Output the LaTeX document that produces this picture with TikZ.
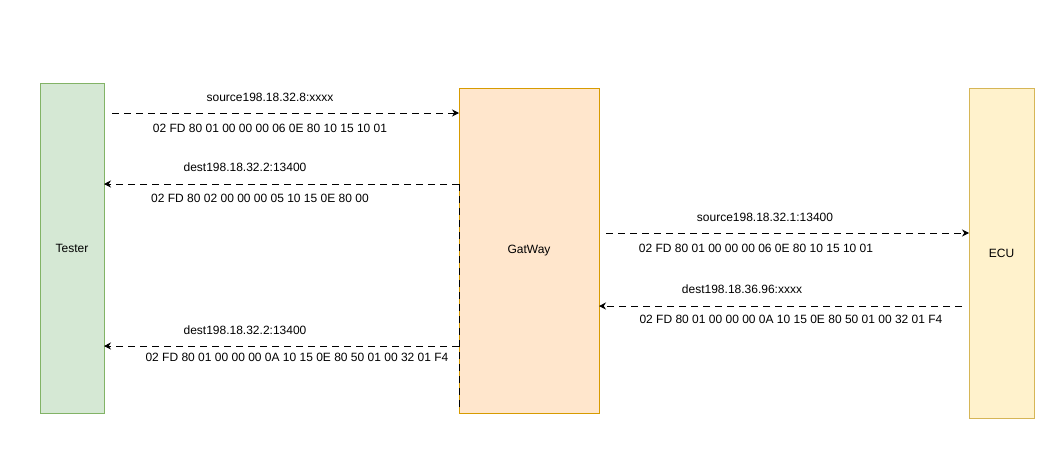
\documentclass[tikz,border=0pt]{standalone}
\usepackage{fontspec}
\setmainfont{Liberation Sans}
\usetikzlibrary{arrows.meta,positioning}
\definecolor{testerfill}{HTML}{D5E8D4}
\definecolor{testerline}{HTML}{82B366}
\definecolor{gwfill}{HTML}{FFE6CC}
\definecolor{gwline}{HTML}{D79B00}
\definecolor{ecufill}{HTML}{FFF2CC}
\definecolor{eculine}{HTML}{D6B656}
\begin{document}
\begin{tikzpicture}[x=1pt, y=-1pt, every node/.style={font=\fontsize{12}{14}\selectfont, inner sep=0pt},
    unitbox/.style={draw, line width=0.8pt, minimum width=#1, outer sep=0pt},
    msg/.style={draw, line width=0.9pt, dash pattern=on 7pt off 5pt, -{Stealth[length=7pt,width=7pt]}}]
    \fill[white] (0,0) rectangle (1059,453);
    \useasboundingbox (0,0) rectangle (1059,453);
    % units
    \node[unitbox=64pt, fill=testerfill, draw=testerline, minimum height=330pt] (tester) at (72,248) {Tester};
    \node[unitbox=140pt, fill=gwfill, draw=gwline, minimum height=325pt] (gw) at (529,250.5) {GatWay};
    \node[unitbox=65pt, fill=ecufill, draw=eculine, minimum height=330pt] (ecu) at (1001.5,253) {ECU};
    % free ends
    \coordinate (s1) at (112,113);
    \coordinate (s2) at (0,184);
    \coordinate (s3) at (606,233);
    \coordinate (s4) at (962,306);
    \coordinate (s5) at (0,346);
    % messages
    \draw[msg] (s1) -- (s1 -| gw.west);
    \draw[msg] (s2 -| gw.west) -- (s2 -| tester.east);
    \draw[msg] (s3) -- (s3 -| ecu.west);
    \draw[msg] (s4) -- (s4 -| gw.east);
    \draw[msg] (s5 -| gw.west) -- (s5 -| tester.east);
    \draw[line width=0.9pt, dash pattern=on 7pt off 5pt] (s2 -| gw.west) -- ([yshift=3pt]gw.south west);
    % labels
    \node (a1) at (270,97) {source198.18.32.8:xxxx};
    \node (b1) at (270,128) {02 FD 80 01 00 00 00 06 0E 80 10 15 10 01};
    \node (a2) at (245,167) {dest198.18.32.2:13400};
    \node (b2) at (260,198) {02 FD 80 02 00 00 00 05 10 15 0E 80 00};
    \node (a3) at (765,217) {source198.18.32.1:13400};
    \node (b3) at (756,248) {02 FD 80 01 00 00 00 06 0E 80 10 15 10 01};
    \node (a4) at (742,289) {dest198.18.36.96:xxxx};
    \node (b4) at (791,319) {02 FD 80 01 00 00 00 0A 10 15 0E 80 50 01 00 32 01 F4};
    \node (a5) at (245,330) {dest198.18.32.2:13400};
    \node (b5) at (297,357) {02 FD 80 01 00 00 00 0A 10 15 0E 80 50 01 00 32 01 F4};
\end{tikzpicture}
\end{document}
